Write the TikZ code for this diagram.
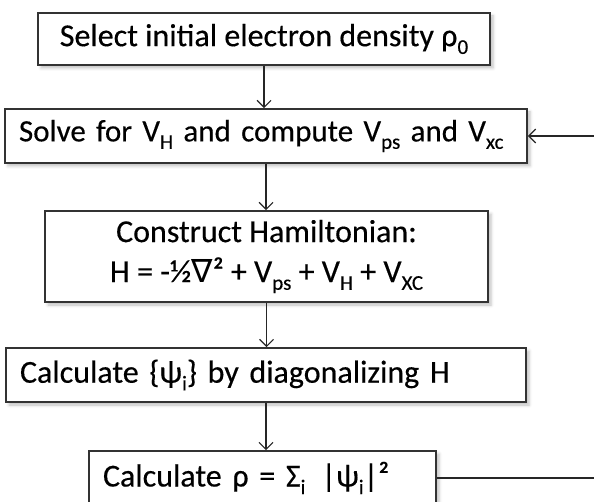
\documentclass[tikz,border=0pt]{standalone}
\usepackage{fontspec}
\setmainfont{Carlito}[FakeBold=0.35]
\newfontfamily\dejavu{DejaVu Sans}
\usetikzlibrary{arrows.meta,shadows.blur}
\newcommand\lsub[1]{\raisebox{-0.24em}{\fontsize{21}{21}\selectfont #1}}
\begin{document}
\begin{tikzpicture}[x=1pt,y=-1pt,
  box/.style={draw=black!80, line width=1.6pt, fill=white, inner xsep=14pt, inner ysep=0pt,
    font={\fontsize{32}{40}\selectfont},
    blur shadow={shadow xshift=3pt, shadow yshift=-3pt, shadow blur radius=3pt, shadow opacity=25}},
  arr/.style={draw=black!85, line width=1.2pt, -{Straight Barb[length=7pt,width=14pt,line width=1.2pt]}},
  ln/.style={draw=black!85, line width=1.2pt}]
\useasboundingbox (0,0) rectangle (594,502);
\clip (0,0) rectangle (594,502);
\node[box, minimum width=452pt, minimum height=52pt, align=center] (b1) at (264,39)
  {Select initial electron density ρ\lsub{0}};
\node[box, font={\fontsize{31}{40}\selectfont}, minimum width=522pt, minimum height=54pt, text width=494pt, align=left] (b2) at (266,136)
  {\mbox{Solve for V\lsub{H} and compute V\lsub{ps} and V\lsub{xc}}};
\node[box, minimum width=443pt, minimum height=91pt, align=center] (b3) at (266.5,256.5)
  {Construct Hamiltonian:\\ H = -½{\dejavu ∇}² + V\lsub{ps} + V\lsub{H} + V\lsub{XC}};
\node[box, minimum width=520pt, minimum height=54pt, text width=492pt, align=left] (b4) at (266,375)
  {\mbox{Calculate \{ψ\lsub{i}\} by diagonalizing H}};
\node[box, minimum width=347pt, minimum height=54pt, text width=319pt, align=left] (b5) at (262.5,478)
  {\mbox{Calculate ρ = Σ\lsub{i}\, |ψ\lsub{i}|²}};
\coordinate (r2) at (600,136);
\coordinate (r5) at (600,478);
\draw[arr] (b1.south) -- (b1.south |- b2.north);
\draw[arr] (b2.south) -- (b2.south |- b3.north);
\draw[arr] (b3.south) -- (b3.south |- b4.north);
\draw[arr] (b4.south) -- (b4.south |- b5.north);
\draw[arr] (r2) -- (b2.east);
\draw[ln] (b5.east) -- (r5);
\end{tikzpicture}
\end{document}
